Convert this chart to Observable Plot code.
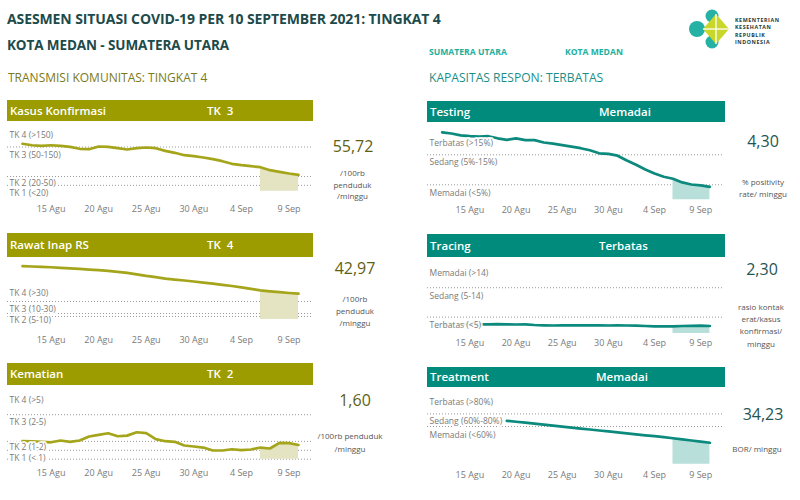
<!DOCTYPE html>
<html>
<head>
<meta charset="utf-8">
<script src="https://cdn.jsdelivr.net/npm/d3@7"></script>
<script src="https://cdn.jsdelivr.net/npm/@observablehq/plot@0.6"></script>
<style>
  html, body { margin: 0; padding: 0; background: #fff; }
  #root { position: relative; width: 800px; height: 500px; overflow: hidden; font-family: "Open Sans", sans-serif; }
  .t { position: absolute; white-space: pre; }
  .bar { position: absolute; }
  .chart { position: absolute; }
  .chart svg { overflow: visible; }
</style>
</head>
<body>
<div id="root"></div>
<script>
// ---------- DATA ----------
const startDate = "2021-08-12";
const endDate = "2021-09-10";
const xTickDates = ["2021-08-15", "2021-08-20", "2021-08-25", "2021-08-30", "2021-09-04", "2021-09-09"];
const xTickLabels = ["15 Agu", "20 Agu", "25 Agu", "30 Agu", "4 Sep", "9 Sep"];
const shadeFrom = "2021-09-06";

const kasus = [160.9,156,154,156,154,150.6,143.9,142.5,151.7,150.6,146,141.5,146,148.3,146,137,130.3,122.2,118.8,114.4,108.7,101.9,93,88.3,84.9,81.5,71.4,65.9,60.2,55.72];
const rawat = [88.8,88.3,87.8,87.1,86.2,85.2,84.3,83.2,82.3,81,79.4,77.8,75.3,72.7,70.6,68.2,66.5,65,63.3,61.6,59.8,57.8,55.8,53.5,51,48.5,47,45.5,44.2,42.97];
const kematian = [2.02,2.0,1.94,1.9,2.1,1.95,2.1,2.55,2.74,2.92,2.58,2.65,3.03,2.92,2.25,2.02,1.95,1.54,1.43,1.31,0.98,0.98,1.12,1.01,1.09,1.31,1.2,1.84,1.8,1.60];
const testing = [22.5,22.1,21.5,21.2,21.1,21.2,20.5,20,20.5,19.9,19.9,19.1,18.7,18.2,17.7,17.2,16.5,15.5,15.3,14.7,13.1,11.7,10.1,8.8,7.7,7,5.8,5.1,4.8,4.30];
const tracing = [2.8,2.85,2.8,2.85,2.8,2.8,2.85,2.8,2.75,2.8,2.6,2.5,2.45,2.5,2.5,2.5,2.5,2.5,2.45,2.5,2.45,2.4,2.3,2.2,2.15,2.2,2.3,2.35,2.4,2.30];
const treatment = [null,null,null,null,null,null,null,69.0,67.5,66.2,64.5,63.0,61.5,59.8,58.3,56.6,55.2,53.6,52.2,50.6,49.1,47.4,46.0,44.6,43.0,41.3,39.5,37.8,36.0,34.23];

const kasusRules = [150, 50, 20];
const kasusLabels = ["TK 4 (>150)", "TK 3 (50-150)", "TK 2 (20-50)", "TK 1 (<20)"];
const kasusLabelAt = [189, 121, 26.5, -8.5];
const rawatRules = [30, 10, 5];
const rawatLabels = ["TK 4 (>30)", "TK 3 (10-30)", "TK 2 (5-10)"];
const rawatLabelAt = [44.5, 16.7, -1];
const kematianRules = [5, 2, 1, 0];
const kematianLabels = ["TK 4 (>5)", "TK 3 (2-5)", "TK 2 (1-2)", "TK 1 (< 1)"];
const kematianLabelAt = [6.67, 4.16, 1.34, 0.1];
const testingRules = [15, 5];
const testingLabels = ["Terbatas (>15%)", "Sedang (5%-15%)", "Memadai (<5%)"];
const testingLabelAt = [18.7, 12.5, 2.3];
const tracingRules = [14, 5];
const tracingLabels = ["Memadai (>14)", "Sedang (5-14)", "Terbatas (<5)"];
const tracingLabelAt = [18.56, 11.4, 2.66];
const treatmentRules = [80, 60];
const treatmentLabels = ["Terbatas (>80%)", "Sedang (60%-80%)", "Memadai (<60%)"];
const treatmentLabelAt = [98.6, 68.4, 46.8];

const panelTitles = ["Kasus Konfirmasi", "Rawat Inap RS", "Kematian", "Testing", "Tracing", "Treatment"];
const panelLevels = ["TK  3", "TK  4", "TK  2", "Memadai", "Terbatas", "Memadai"];
const panelValues = ["55,72", "42,97", "1,60", "4,30", "2,30", "34,23"];
const panelUnits = [
  ["/100rb", "penduduk", "/minggu"],
  ["/100rb", "penduduk", "/minggu"],
  ["/100rb penduduk", "/minggu"],
  ["% positivity", "rate/ minggu"],
  ["rasio kontak", "erat/kasus", "konfirmasi/", "minggu"],
  ["BOR/ minggu"]
];

// ---------- STYLE ----------
const OLIVE_BAR = "#9c9c00", OLIVE_LINE = "#a5a51c", OLIVE_SHADE = "#e4e4c2", OLIVE_VALUE = "#5f5f14", OLIVE_HEAD = "#7a7a1a";
const TEAL_BAR = "#008b7d", TEAL_LINE = "#0c8a7d", TEAL_SHADE = "#b9dfda", TEAL_VALUE = "#1f5654", TEAL_HEAD = "#1a8f88";
const TITLE = "#1d4a4a";

const root = document.getElementById("root");
const parse = d3.utcParse("%Y-%m-%d");
const dates = d3.utcDay.range(parse(startDate), d3.utcDay.offset(parse(endDate), 1));
const tickDates = xTickDates.map(parse);
const tickMap = new Map(tickDates.map((d, i) => [+d, xTickLabels[i]]));
const shadeStart = parse(shadeFrom);

function text(str, x, cy, fs, opts = {}) {
  const lh = opts.lh || 1.2;
  const el = document.createElement("div");
  el.className = "t";
  el.textContent = str;
  el.style.left = x + "px";
  el.style.top = (cy - fs * (lh / 2 + 0.031)) + "px";
  el.style.lineHeight = lh;
  el.style.fontSize = fs + "px";
  el.style.color = opts.color || "#333";
  el.style.fontWeight = opts.weight || 400;
  if (opts.center) el.style.transform = "translateX(-50%)";
  if (opts.ls) el.style.letterSpacing = opts.ls;
  (opts.parent || root).appendChild(el);
  return el;
}

// ---------- HEADER ----------
text("ASESMEN SITUASI COVID-19 PER 10 SEPTEMBER 2021: TINGKAT 4", 7, 20, 14, {color: TITLE, weight: 700, ls: "-0.1px"});
text("KOTA MEDAN - SUMATERA UTARA", 7, 46, 13.5, {color: TITLE, weight: 700, ls: "-0.1px"});
text("TRANSMISI KOMUNITAS: TINGKAT 4", 8, 79, 12, {color: OLIVE_HEAD});
text("SUMATERA UTARA", 429, 52, 8.6, {color: "#22b09e", weight: 700});
text("KOTA MEDAN", 565, 52, 8.6, {color: "#22b09e", weight: 700});
text("KAPASITAS RESPON: TERBATAS", 429, 79, 12.1, {color: TEAL_HEAD});

// logo
const logo = document.createElement("div");
logo.style.cssText = "position:absolute;left:685px;top:5px;width:50px;height:50px;";
logo.innerHTML = `<svg width="50" height="50" viewBox="685 5 50 50">
  <circle cx="697" cy="29" r="8" fill="#25b1a4"/>
  <circle cx="712" cy="16" r="6.5" fill="#25b1a4"/>
  <circle cx="712" cy="42" r="6.5" fill="#25b1a4"/>
  <polygon points="716,14 729,29 716,44 703,29" fill="#c9d62a"/>
  <line x1="703" y1="29" x2="729" y2="29" stroke="#fff" stroke-width="1.3"/>
  <line x1="716" y1="14" x2="716" y2="44" stroke="#fff" stroke-width="1.3"/>
</svg>`;
root.appendChild(logo);
["KEMENTERIAN", "KESEHATAN", "REPUBLIK", "INDONESIA"].forEach((s, i) =>
  text(s, 735, 21 + i * 7.2, 5.3, {color: "#1e3a3a", weight: 700, lh: 1, ls: "0.6px"}));

// ---------- PANELS ----------
function bar(x, y, w, h, color, title, level, levelX) {
  const b = document.createElement("div");
  b.className = "bar";
  b.style.cssText = `left:${x}px;top:${y}px;width:${w}px;height:${h}px;background:${color};`;
  root.appendChild(b);
  text(title, x + 3, y + h / 2 + 0.5, 11.5, {color: "#fff", weight: 600});
  text(level, levelX, y + h / 2 + 0.5, 11.5, {color: "#fff", weight: 600});
}

function panel(cfg) {
  const data = dates.map((d, i) => ({date: d, value: cfg.values[i]}));
  const shade = data.filter(d => d.date >= shadeStart);
  const labels = cfg.labels.map((l, i) => ({label: l, y: cfg.labelAt[i]}));
  const left = cfg.side === "left";
  const plot = Plot.plot({
    width: 400,
    height: cfg.height,
    marginLeft: left ? 7 : 27,
    marginRight: left ? 87 : 77,
    marginTop: 0,
    marginBottom: cfg.mb,
    style: {fontFamily: "Open Sans, sans-serif", fontSize: "9px", color: "#777", background: "transparent", overflow: "visible"},
    x: {type: "utc", domain: [dates[0], dates[dates.length - 1]], range: left ? [22, 298] : [41.7, 309.4]},
    y: {domain: cfg.domain, range: cfg.range, axis: null},
    marks: [
      Plot.ruleY(cfg.rules, {stroke: "#9a9a9a", strokeWidth: 1, strokeDasharray: "1,2"}),
      Plot.areaY(shade, {x: "date", y: "value", fill: cfg.shade}),
      Plot.lineY(data, {x: "date", y: "value", stroke: cfg.line, strokeWidth: 2.7, defined: d => d.value != null}),
      Plot.text(labels, {frameAnchor: "left", y: "y", text: "label", textAnchor: "start", dx: 2, fill: "#7a7a7a",
        stroke: "white", strokeWidth: 4, strokeOpacity: 0.85, fontSize: 8.5}),
      Plot.axisX({ticks: tickDates, tickFormat: d => tickMap.get(+d), tickSize: 0, tickPadding: 3, label: null, fill: "#7a7a7a"})
    ]
  });
  const wrap = document.createElement("div");
  wrap.className = "chart";
  wrap.style.left = (left ? 0 : 400) + "px";
  wrap.style.top = cfg.top + "px";
  wrap.appendChild(plot);
  root.appendChild(wrap);
}

// left column
bar(7, 100, 306, 21, OLIVE_BAR, panelTitles[0], panelLevels[0], 207);
panel({side: "left", top: 122, height: 100, mb: 20, values: kasus, rules: kasusRules, labels: kasusLabels, labelAt: kasusLabelAt,
  domain: [-20, 200], range: [74.65, 9.75], line: OLIVE_LINE, shade: OLIVE_SHADE});
bar(7, 233, 306, 24, OLIVE_BAR, panelTitles[1], panelLevels[1], 207);
panel({side: "left", top: 257, height: 100, mb: 24, values: rawat, rules: rawatRules, labels: rawatLabels, labelAt: rawatLabelAt,
  domain: [0, 95], range: [62, 5], line: OLIVE_LINE, shade: OLIVE_SHADE});
bar(7, 363, 306, 22, OLIVE_BAR, panelTitles[2], panelLevels[2], 207);
panel({side: "left", top: 386, height: 100, mb: 20, values: kematian, rules: kematianRules, labels: kematianLabels, labelAt: kematianLabelAt,
  domain: [0, 5.5], range: [72.7, 23.75], line: OLIVE_LINE, shade: OLIVE_SHADE});

// right column
bar(427, 101, 298, 21, TEAL_BAR, panelTitles[3], panelLevels[3], 599);
panel({side: "right", top: 122, height: 100, mb: 19, values: testing, rules: testingRules, labels: testingLabels, labelAt: testingLabelAt,
  domain: [0, 24], range: [77.3, 5.3], line: TEAL_LINE, shade: TEAL_SHADE});
bar(427, 234, 298, 23, TEAL_BAR, panelTitles[4], panelLevels[4], 599);
panel({side: "right", top: 257, height: 100, mb: 21, values: tracing, rules: tracingRules, labels: tracingLabels, labelAt: tracingLabelAt,
  domain: [0, 20], range: [76, 10.6], line: TEAL_LINE, shade: TEAL_SHADE});
bar(427, 367, 298, 20, TEAL_BAR, panelTitles[5], panelLevels[5], 596);
panel({side: "right", top: 387, height: 100, mb: 19, values: treatment, rules: treatmentRules, labels: treatmentLabels, labelAt: treatmentLabelAt,
  domain: [0, 100], range: [76.8, 13.8], line: TEAL_LINE, shade: TEAL_SHADE});

// values and units
const valuePos = [[353, 147.5], [355, 269.5], [355, 401], [763, 142.5], [762, 270.5], [763, 415.5]];
const unitPos = [[352.5, 174, 11.5], [355, 299.5, 12], [350, 436.7, 12.6], [763, 182.3, 12], [761, 307.7, 12.2], [757, 449.3, 12]];
panelValues.forEach((v, i) => {
  const col = i < 3 ? OLIVE_VALUE : TEAL_VALUE;
  text(v, valuePos[i][0], valuePos[i][1], 16, {color: col, center: true});
  panelUnits[i].forEach((u, j) =>
    text(u, unitPos[i][0], unitPos[i][1] + j * unitPos[i][2], 8, {color: "#555", center: true, lh: 1.1}));
});
</script>
</body>
</html>
